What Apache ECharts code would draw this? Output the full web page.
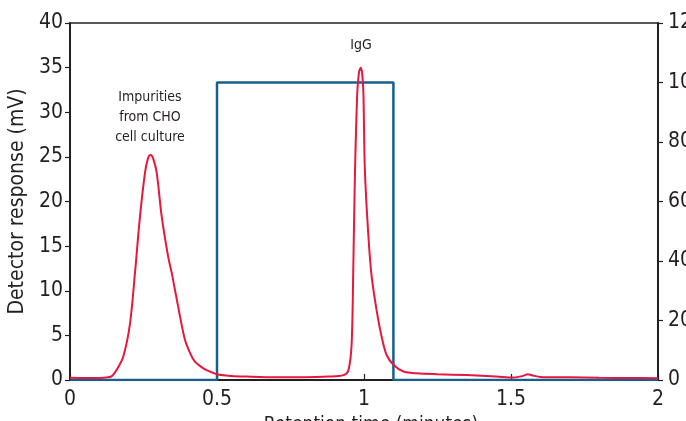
<!DOCTYPE html>
<html>
<head>
<meta charset="utf-8">
<script src="https://cdn.jsdelivr.net/npm/echarts@6/dist/echarts.min.js"></script>
<style>
html,body{margin:0;padding:0;background:#fff;}
#chart{width:686px;height:421px;}
</style>
</head>
<body>
<div id="chart"></div>
<script>
// Retention time (minutes) and detector response (mV)
const retentionTime = [0, 0.05, 0.10, 0.13, 0.143, 0.16, 0.181, 0.204, 0.221, 0.238, 0.255, 0.265, 0.274, 0.283, 0.295, 0.312, 0.334, 0.346, 0.368, 0.391, 0.41, 0.425, 0.445, 0.465, 0.5, 0.55, 0.6, 0.7, 0.8, 0.88, 0.93, 0.947, 0.958, 0.964, 0.969, 0.977, 0.983, 0.989, 0.994, 0.998, 1.003, 1.015, 1.026, 1.043, 1.06, 1.077, 1.1, 1.134, 1.18, 1.25, 1.35, 1.45, 1.51, 1.54, 1.557, 1.575, 1.6, 1.7, 1.8, 1.9, 2.0];
const detectorResponse = [0.25, 0.22, 0.22, 0.3, 0.45, 1.2, 2.6, 6.3, 12.0, 18.3, 23.2, 24.8, 25.2, 24.8, 23.2, 18.3, 13.8, 12.0, 8.2, 4.5, 2.9, 2.05, 1.5, 1.1, 0.65, 0.45, 0.38, 0.3, 0.3, 0.38, 0.55, 1.1, 4.1, 13.4, 22.8, 32.1, 34.5, 35.0, 34.3, 32.1, 23.5, 16.1, 11.6, 7.8, 4.85, 2.8, 1.7, 0.95, 0.75, 0.65, 0.55, 0.4, 0.28, 0.45, 0.65, 0.5, 0.35, 0.3, 0.25, 0.22, 0.2];
// Fraction collection trace (right axis)
const fractionTime = [0, 0.5, 0.5, 1.1, 1.1, 2.0];
const fractionValue = [0, 0, 100, 100, 0, 0];
// Annotations
const annotationX = [0.272, 0.99];
const annotationY = [29.4, 37.5];
const annotationText = ['Impurities\nfrom CHO\ncell culture', 'IgG'];

const FONT = '"Liberation Sans Narrow", "DejaVu Sans Condensed", "Roboto Condensed", sans-serif';
const INK = '#231f20';

const chart = echarts.init(document.getElementById('chart'), null, {renderer: 'canvas'});
chart.setOption({
  animation: false,
  backgroundColor: '#ffffff',
  grid: {left: 70, right: 28, top: 23, bottom: 41, containLabel: false, outerBoundsMode: 'none',
         show: true, borderColor: INK, borderWidth: 1.5, backgroundColor: 'transparent'},
  xAxis: {
    type: 'value', min: 0, max: 2, interval: 0.5,
    name: 'Retention time (minutes)', nameLocation: 'middle', nameGap: 36,
    nameTextStyle: {fontFamily: FONT, fontSize: 19, color: INK, padding: [0, 0, 0, 14]},
    axisLine: {show: true, lineStyle: {color: INK, width: 2}},
    axisTick: {show: true, inside: true, length: 6, lineStyle: {color: INK, width: 1.2}},
    axisLabel: {fontFamily: FONT, fontSize: 21, color: INK, margin: 9},
    splitLine: {show: false}
  },
  yAxis: [{
    type: 'value', min: 0, max: 40, interval: 5, position: 'left',
    name: 'Detector response (mV)', nameLocation: 'middle', nameGap: 40,
    nameTextStyle: {fontFamily: FONT, fontSize: 21, color: INK},
    axisLine: {show: true, lineStyle: {color: INK, width: 2}},
    axisTick: {show: true, inside: false, length: 5, lineStyle: {color: INK, width: 1.2}},
    axisLabel: {fontFamily: FONT, fontSize: 21, color: INK, margin: 7},
    splitLine: {show: false}
  }, {
    type: 'value', min: 0, max: 120, interval: 20, position: 'right',
    axisLine: {show: true, lineStyle: {color: INK, width: 2}},
    axisTick: {show: true, inside: false, length: 5, lineStyle: {color: INK, width: 1.2}},
    axisLabel: {fontFamily: FONT, fontSize: 21, color: INK, margin: 10},
    splitLine: {show: false}
  }],
  series: [{
    type: 'line', yAxisIndex: 1, symbol: 'none',
    data: fractionTime.map((t, i) => [t, fractionValue[i]]),
    lineStyle: {color: '#17608e', width: 2.5}, z: 3
  }, {
    type: 'line', yAxisIndex: 0, symbol: 'none', smooth: 0.3,
    data: retentionTime.map((t, i) => [t, detectorResponse[i]]),
    lineStyle: {color: '#e5183f', width: 2}, z: 4
  }, {
    type: 'scatter', yAxisIndex: 0, symbolSize: 0,
    itemStyle: {opacity: 1},
    data: annotationX.map((x, i) => ({value: [x, annotationY[i]], label: {formatter: annotationText[i]}})),
    label: {show: true, position: 'inside', fontFamily: FONT, fontSize: 14, color: INK, opacity: 1, lineHeight: 20, align: 'center'},
    silent: true, z: 5
  }]
});
</script>
</body>
</html>
